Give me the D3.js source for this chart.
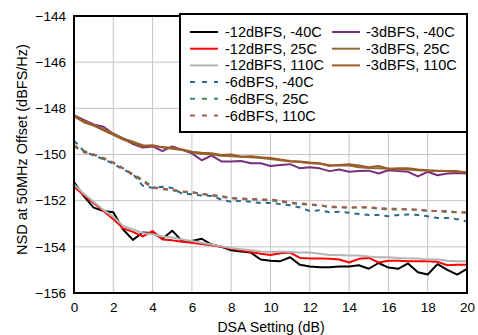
<!DOCTYPE html>
<html><head><meta charset="utf-8">
<script src="https://cdn.jsdelivr.net/npm/d3@7"></script>
<style>
body{margin:0;background:#fff;}
svg{display:block;font-family:"Liberation Sans",Arial,sans-serif;}
</style></head>
<body><svg id="c" width="478" height="335"></svg>
<script>
const dsa = d3.range(0, 20.001, 0.5);
const xTicks = [0,2,4,6,8,10,12,14,16,18,20];
const yTicks = [-156,-154,-152,-150,-148,-146,-144];

const m12_m40 = [-151.2,-151.8,-152.3,-152.45,-152.5,-153.25,-153.7,-153.38,-153.4,-153.65,-153.3,-153.75,-153.75,-153.65,-153.9,-154.0,-154.15,-154.2,-154.25,-154.55,-154.6,-154.62,-154.45,-154.78,-154.85,-154.88,-154.88,-154.85,-154.85,-154.8,-154.95,-154.7,-154.9,-154.95,-154.72,-155.1,-155.2,-154.75,-155.0,-155.2,-154.95];
const m12_25 = [-151.4,-151.75,-152.1,-152.45,-152.8,-153.2,-153.35,-153.55,-153.32,-153.68,-153.72,-153.78,-153.82,-153.88,-153.93,-154.0,-154.08,-154.15,-154.22,-154.3,-154.35,-154.28,-154.25,-154.48,-154.5,-154.5,-154.52,-154.55,-154.68,-154.52,-154.48,-154.68,-154.6,-154.6,-154.62,-154.62,-154.62,-154.65,-154.8,-154.78,-154.78];
const m12_110 = [-151.3,-151.7,-152.05,-152.4,-152.7,-153.1,-153.25,-153.4,-153.45,-153.55,-153.6,-153.68,-153.75,-153.82,-153.9,-153.98,-154.05,-154.1,-154.15,-154.2,-154.22,-154.2,-154.22,-154.25,-154.25,-154.3,-154.35,-154.35,-154.38,-154.38,-154.42,-154.45,-154.45,-154.48,-154.5,-154.5,-154.55,-154.55,-154.6,-154.62,-154.62];
const m6_m40 = [-149.4,-149.85,-150.05,-150.2,-150.4,-150.65,-150.85,-151.35,-151.45,-151.4,-151.45,-151.7,-151.72,-151.78,-151.8,-151.95,-152.05,-152.0,-152.05,-152.1,-152.1,-152.15,-152.2,-152.3,-152.45,-152.42,-152.5,-152.48,-152.52,-152.58,-152.62,-152.62,-152.68,-152.62,-152.6,-152.62,-152.68,-152.75,-152.75,-152.8,-152.9];
const m6_25 = [-149.6,-149.85,-150.0,-150.2,-150.35,-150.6,-150.85,-151.1,-151.4,-151.5,-151.55,-151.62,-151.65,-151.7,-151.78,-151.82,-151.9,-151.92,-151.95,-151.97,-151.98,-152.05,-152.1,-152.15,-152.18,-152.2,-152.28,-152.28,-152.3,-152.3,-152.3,-152.35,-152.38,-152.38,-152.38,-152.4,-152.45,-152.45,-152.5,-152.5,-152.52];
const m6_110 = [-149.65,-149.9,-150.0,-150.15,-150.35,-150.6,-150.9,-151.15,-151.45,-151.48,-151.52,-151.6,-151.62,-151.72,-151.75,-151.8,-151.88,-151.9,-151.92,-151.95,-151.95,-152.0,-152.08,-152.12,-152.15,-152.2,-152.25,-152.28,-152.3,-152.28,-152.28,-152.32,-152.35,-152.35,-152.38,-152.4,-152.42,-152.45,-152.45,-152.5,-152.5];
const m3_m40 = [-148.3,-148.5,-148.7,-148.8,-149.1,-149.3,-149.55,-149.7,-149.65,-149.85,-149.65,-149.8,-149.95,-150.25,-150.05,-150.3,-150.3,-150.28,-150.38,-150.38,-150.5,-150.45,-150.42,-150.6,-150.55,-150.6,-150.72,-150.65,-150.75,-150.72,-150.7,-150.82,-150.68,-150.72,-150.75,-150.95,-150.75,-150.9,-150.82,-150.8,-150.82];
const m3_25 = [-148.3,-148.55,-148.72,-148.9,-149.1,-149.3,-149.45,-149.6,-149.62,-149.7,-149.75,-149.8,-149.9,-149.98,-150.0,-150.05,-150.08,-150.1,-150.12,-150.15,-150.2,-150.25,-150.3,-150.32,-150.38,-150.4,-150.45,-150.48,-150.48,-150.55,-150.58,-150.6,-150.62,-150.65,-150.65,-150.68,-150.7,-150.72,-150.72,-150.75,-150.78];
const m3_110 = [-148.35,-148.6,-148.75,-148.95,-149.15,-149.35,-149.5,-149.65,-149.6,-149.68,-149.72,-149.78,-149.88,-149.92,-149.95,-150.02,-150.0,-150.1,-150.08,-150.12,-150.15,-150.22,-150.28,-150.3,-150.35,-150.38,-150.5,-150.45,-150.42,-150.48,-150.55,-150.5,-150.62,-150.6,-150.6,-150.65,-150.68,-150.7,-150.72,-150.72,-150.78];

const seriesNames = ["-12dBFS, -40C","-12dBFS, 25C","-12dBFS, 110C","-6dBFS, -40C","-6dBFS, 25C","-6dBFS, 110C","-3dBFS, -40C","-3dBFS, 25C","-3dBFS, 110C"];
const seriesValues = [m12_m40,m12_25,m12_110,m6_m40,m6_25,m6_110,m3_m40,m3_25,m3_110];
const seriesColors = ["#000000","#ff0000","#b4b4b4","#2d6a8c","#3a8a5c","#a85a50","#7a2f7c","#8a6c38","#9e5a26"];
const seriesDashed = [false,false,false,true,true,true,false,false,false];

const svg = d3.select("#c");
const L=74, R=467, T=16, B=293;
const x = d3.scaleLinear().domain([0,20]).range([L,R]);
const y = d3.scaleLinear().domain([-156,-144]).range([B,T]);

// grid
svg.append("g").selectAll("line").data(xTicks.slice(1,-1)).join("line")
  .attr("x1",d=>x(d)).attr("x2",d=>x(d)).attr("y1",T).attr("y2",B)
  .attr("stroke","#c4c4c4").attr("stroke-width",1);
svg.append("g").selectAll("line").data(yTicks.slice(1,-1)).join("line")
  .attr("y1",d=>y(d)).attr("y2",d=>y(d)).attr("x1",L).attr("x2",R)
  .attr("stroke","#c4c4c4").attr("stroke-width",1);

// axes labels via d3 axes
const xa = svg.append("g").attr("transform",`translate(0,${B})`)
  .call(d3.axisBottom(x).tickValues(xTicks).tickSize(0).tickPadding(9).tickFormat(d3.format("d")));
xa.select(".domain").remove();
xa.selectAll("text").attr("font-size",13.5).attr("fill","#000").attr("font-family","Liberation Sans, Arial, sans-serif");
const ya = svg.append("g").attr("transform",`translate(${L},0)`)
  .call(d3.axisLeft(y).tickValues(yTicks).tickSize(0).tickPadding(8).tickFormat(d3.format("d")));
ya.select(".domain").remove();
ya.selectAll("text").attr("font-size",13.5).attr("fill","#000").attr("font-family","Liberation Sans, Arial, sans-serif");

// lines
const line = d3.line().x((d,i)=>x(dsa[i])).y(d=>y(d));
svg.append("clipPath").attr("id","clp").append("rect").attr("x",L).attr("y",T).attr("width",R-L).attr("height",B-T);
const lg = svg.append("g").attr("clip-path","url(#clp)");
seriesValues.forEach((vals,k)=>{
  lg.append("path").attr("d",line(vals)).attr("fill","none")
    .attr("stroke",seriesColors[k]).attr("stroke-width",2)
    .attr("stroke-linejoin","round")
    .attr("stroke-dasharray",seriesDashed[k]?"5,5":null);
});

// frame
svg.append("rect").attr("x",L).attr("y",T).attr("width",R-L).attr("height",B-T)
  .attr("fill","none").attr("stroke","#000").attr("stroke-width",2);

// legend
const leg = svg.append("g");
leg.append("rect").attr("x",180).attr("y",14).attr("width",287).attr("height",118)
  .attr("fill","#fff").attr("stroke","#000").attr("stroke-width",2);
seriesNames.forEach((n,k)=>{
  const col = k<6?0:1, row = k<6?k:k-6;
  const x0 = col===0?190:332, yy = 32 + row*16.7;
  leg.append("line").attr("x1",x0).attr("x2",x0+28).attr("y1",yy).attr("y2",yy)
    .attr("stroke",seriesColors[k]).attr("stroke-width",2)
    .attr("stroke-dasharray",seriesDashed[k]?"5,7":null);
  leg.append("text").attr("x",col===0?225:366).attr("y",yy+5)
    .attr("font-size",14.5).attr("fill","#000").text(n);
});

// titles
svg.append("text").attr("x",271).attr("y",332).attr("text-anchor","middle")
  .attr("font-size",14.2).text("DSA Setting (dB)");
svg.append("text").attr("transform",`translate(27,${(T+B)/2-5}) rotate(-90)`)
  .attr("text-anchor","middle").attr("font-size",14.5).text("NSD at 50MHz Offset (dBFS/Hz)");
</script></body></html>
